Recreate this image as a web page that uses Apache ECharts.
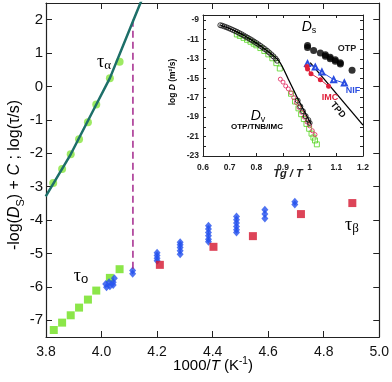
<!DOCTYPE html>
<html>
<head>
<meta charset="utf-8">
<script src="https://cdn.jsdelivr.net/npm/echarts@6/dist/echarts.min.js"></script>
<style>
html, body { margin: 0; padding: 0; background: #fff; }
#chart { width: 392px; height: 382px; }
</style>
</head>
<body>
<div id="chart"></div>
<script>
// main panel: 1000/T vs -log(Ds)+C ; log(tau/s)
var tauAlpha = [[3.799, -3.29], [3.826, -2.89], [3.858, -2.47], [3.889, -2.03], [3.919, -1.58],
  [3.951, -1.07], [3.981, -0.54], [4.030, 0.25], [4.065, 0.74]]
var tauAlphaFit = [[3.799, -3.29], [3.889, -2.03], [3.981, -0.54], [4.030, 0.25], [4.115, 1.99], [4.145, 2.6]]
var tauO = [[3.828, -7.29], [3.858, -7.07], [3.889, -6.85], [3.919, -6.62], [3.951, -6.38],
  [3.981, -6.11], [4.030, -5.73], [4.065, -5.47]]
var dsBlue = [[4.015, -5.91], [4.018, -6.01], [4.027, -5.86], [4.030, -5.98], [4.042, -5.94], [4.042, -5.86], [4.046, -5.74],
  [4.112, -5.51], [4.112, -5.61],
  [4.200, -4.98], [4.200, -5.06], [4.200, -5.14], [4.200, -5.22],
  [4.283, -4.66], [4.283, -4.74], [4.283, -4.82], [4.283, -4.92], [4.283, -5.02],
  [4.385, -4.17], [4.385, -4.27], [4.385, -4.37], [4.385, -4.47], [4.385, -4.57], [4.385, -4.65],
  [4.486, -3.89], [4.486, -3.99], [4.486, -4.09], [4.486, -4.19], [4.486, -4.29], [4.486, -4.37],
  [4.588, -3.69], [4.588, -3.82], [4.588, -3.95],
  [4.696, -3.45], [4.696, -3.53]]
var tauBeta = [[4.210, -5.34], [4.403, -4.80], [4.545, -4.48], [4.718, -3.82], [4.903, -3.49]]
var tgMark = [[4.113, 2.0], [4.113, -5.52]]
var mainYTicks = [-7, -6, -5, -4, -3, -2, -1, 0, 1, 2]

// inset: Tg/T vs log D
var dvOTP = [[0.665, -9.55], [0.672, -9.6], [0.68, -9.68], [0.688, -9.76], [0.696, -9.85], [0.704, -9.94],
  [0.712, -10.04], [0.72, -10.14], [0.728, -10.24], [0.736, -10.36], [0.744, -10.47], [0.752, -10.6],
  [0.76, -10.72], [0.768, -10.84], [0.776, -10.97], [0.784, -11.1], [0.792, -11.24], [0.8, -11.38],
  [0.808, -11.53], [0.816, -11.68], [0.824, -11.84], [0.832, -12.0], [0.84, -12.17], [0.848, -12.35],
  [0.856, -12.55], [0.864, -12.75], [0.872, -12.98], [0.878, -13.2],
  [0.955, -17.3], [0.965, -17.9], [0.975, -18.4], [0.985, -18.9], [0.995, -19.3], [1.0, -19.6]]
var dvFit = [[0.665, -9.55], [0.72, -10.14], [0.78, -11.03], [0.84, -12.17], [0.885, -13.25],
  [0.92, -15.1], [0.96, -17.35], [1.005, -19.7]]
var dvTNB = [[0.727, -10.5], [0.738, -10.65], [0.752, -10.85], [0.765, -11.05], [0.778, -11.25],
  [0.79, -11.45], [0.8, -11.62], [0.815, -11.9], [0.83, -12.2], [0.845, -12.55], [0.86, -12.95],
  [0.875, -13.45], [0.888, -14.0],
  [0.93, -16.6], [0.945, -17.4], [0.958, -18.1], [0.968, -18.7], [0.978, -19.2], [0.988, -19.7],
  [0.998, -20.2], [1.007, -20.7], [1.014, -21.1], [1.02, -21.4], [1.027, -21.8]]
var dvIMC = [[0.89, -15.1], [0.9, -15.4], [0.91, -15.8], [0.92, -16.1], [0.93, -16.5], [0.94, -17.0],
  [0.95, -17.5], [0.96, -18.0], [0.97, -18.5], [0.98, -19.0], [0.99, -19.5], [1.0, -19.9],
  [1.01, -20.4], [1.02, -20.8]]
var dsOTP = [[0.992, -11.63], [0.992, -11.85], [1.015, -12.15], [1.04, -12.42], [1.059, -12.6], [1.059, -12.75],
  [1.077, -12.85], [1.077, -13.0], [1.096, -13.1], [1.096, -13.25], [1.115, -13.4], [1.115, -13.55], [1.159, -14.19]]
var dsNIF = [[0.992, -13.5], [1.021, -13.86], [1.046, -14.37], [1.09, -15.15], [1.13, -15.5]]
var dsIMC = [[0.99, -13.8], [0.992, -14.05], [1.005, -14.53], [1.04, -15.15], [1.071, -15.83]]
var tpd = [[1.002, -13.4], [1.2, -19.83]]
var tgVert = [[1.003, -12.15], [1.003, -20.0]]
var tgHoriz = [[0.94, -20.0], [1.2, -20.0]]
var insetYLabels = [-23, -21, -19, -17, -15, -13, -11, -9]
var insetYTicks = [-23, -22, -21, -20, -19, -18, -17, -16, -15, -14, -13, -12, -11, -10, -9]

var sans = 'Liberation Sans'
var serif = 'Liberation Serif'
var ink = '#222'

function axis (o) {
  var base = {
    type: 'value',
    splitLine: { show: false },
    axisLine: { show: true, onZero: false, lineStyle: { color: ink, width: 1.2 } },
    axisTick: { show: true, inside: true, length: 6, lineStyle: { color: ink } },
    axisLabel: { show: false }
  }
  return Object.assign(base, o)
}

function scatter (data, x, y, symbol, size, color, extra) {
  return Object.assign({
    type: 'scatter', xAxisIndex: x, yAxisIndex: y, data: data,
    symbol: symbol, symbolSize: size, itemStyle: { color: color }, silent: true
  }, extra || {})
}

function line (data, x, y, color, width, type) {
  return {
    type: 'line', xAxisIndex: x, yAxisIndex: y, data: data, showSymbol: false, symbol: 'none',
    lineStyle: { color: color, width: width, type: type || 'solid' }, silent: true
  }
}

var chart = echarts.init(document.getElementById('chart'), null, { renderer: 'canvas' })

var insetLbl = { show: true, fontSize: 8.5, fontWeight: 'bold', fontFamily: sans, color: ink }

var option = {
  animation: false,
  grid: [
    { left: 46, right: 12, top: 3, bottom: 45 },
    { left: 203, right: 29, top: 15, bottom: 226, show: true, backgroundColor: '#fff', borderWidth: 0, z: 5 }
  ],
  xAxis: [
    axis({ gridIndex: 0, min: 3.8, max: 5.0, interval: 0.2, position: 'bottom',
      axisLabel: { show: true, fontSize: 14, fontFamily: sans, color: '#111', margin: 8,
        formatter: function (v) { return v.toFixed(1) } } }),
    axis({ gridIndex: 0, min: 3.8, max: 5.0, interval: 0.2, position: 'top' }),
    axis({ gridIndex: 1, min: 0.6, max: 1.2, interval: 0.1, position: 'bottom', z: 6,
      axisLine: { show: true, onZero: false, lineStyle: { color: ink, width: 1 } },
      axisTick: { show: true, inside: true, length: 3, lineStyle: { color: ink } },
      axisLabel: Object.assign({ margin: 7, formatter: function (v) { return Math.abs(v - 1) < 1e-9 ? '1' : v.toFixed(1) } }, insetLbl) }),
    axis({ gridIndex: 1, min: 0.6, max: 1.2, interval: 0.1, position: 'top', z: 6,
      axisLine: { show: true, onZero: false, lineStyle: { color: ink, width: 1 } },
      axisTick: { show: true, inside: true, length: 3, lineStyle: { color: ink } } })
  ],
  yAxis: [
    axis({ gridIndex: 0, min: -7.5, max: 2.5, position: 'left',
      axisTick: { show: true, inside: true, length: 6, customValues: mainYTicks, lineStyle: { color: ink } },
      axisLabel: { show: true, fontSize: 15, fontFamily: sans, color: '#111', margin: 3, customValues: mainYTicks } }),
    axis({ gridIndex: 0, min: -7.5, max: 2.5, position: 'right',
      axisTick: { show: true, inside: true, length: 6, customValues: mainYTicks, lineStyle: { color: ink } } }),
    axis({ gridIndex: 1, min: -23, max: -8.5, position: 'left', z: 6,
      axisLine: { show: true, onZero: false, lineStyle: { color: ink, width: 1 } },
      axisTick: { show: true, inside: true, length: 3, customValues: insetYTicks, lineStyle: { color: ink } },
      axisLabel: Object.assign({ margin: 4, customValues: insetYLabels }, insetLbl) }),
    axis({ gridIndex: 1, min: -23, max: -8.5, position: 'right', z: 6,
      axisLine: { show: true, onZero: false, lineStyle: { color: ink, width: 1 } },
      axisTick: { show: true, inside: true, length: 3, customValues: insetYTicks, lineStyle: { color: ink } } })
  ],
  series: [
    line(tgMark, 0, 0, '#a3268c', 1.5, [7, 4]),
    line(tauAlphaFit, 0, 0, '#1d6f69', 2.5),
    scatter(tauAlpha, 0, 0, 'circle', 8, '#86e53c'),
    scatter(tauO, 0, 0, 'rect', 8, '#6ee01c'),
    scatter(dsBlue, 0, 0, 'diamond', [7, 8], '#2350ee'),
    scatter(tauBeta, 0, 0, 'rect', 8, '#d4152e'),

    line(tgVert, 2, 2, '#f2b21c', 1, [4, 3]),
    line(tgHoriz, 2, 2, '#f2b21c', 1, [4, 3]),
    scatter(dvTNB, 2, 2, 'rect', 5, 'rgba(0,0,0,0)', { itemStyle: { color: 'rgba(0,0,0,0)', borderColor: '#55d420', borderWidth: 1 }, z: 6 }),
    scatter(dvIMC, 2, 2, 'circle', 4, 'rgba(0,0,0,0)', { itemStyle: { color: 'rgba(0,0,0,0)', borderColor: '#e0205a', borderWidth: 1 }, z: 6 }),
    scatter(dvOTP, 2, 2, 'circle', 5, 'rgba(0,0,0,0)', { itemStyle: { color: 'rgba(0,0,0,0)', borderColor: '#111', borderWidth: 1 }, z: 6 }),
    Object.assign(line(dvFit, 2, 2, '#000', 1.3), { smooth: 0.3, z: 7 }),
    Object.assign(line(tpd, 2, 2, '#000', 1.3), { z: 7 }),
    scatter(dsOTP, 2, 2, 'circle', 7, '#000', { z: 7 }),
    Object.assign(line(dsNIF, 2, 2, '#2a4de0', 1), { z: 7, showSymbol: true, symbol: 'emptyTriangle', symbolSize: 5, itemStyle: { color: '#2a4de0' } }),
    Object.assign(line(dsIMC, 2, 2, '#e0203a', 1), { z: 7, showSymbol: true, symbol: 'circle', symbolSize: 5, itemStyle: { color: '#e0203a' } })
  ],
  graphic: [
    { type: 'text', x: 15, y: 175, rotation: Math.PI / 2, z: 10,
      style: { text: '{n|-log(}{i|D}{s|S}{n|) + }{i|C}{n| ; log(τ/s)}', align: 'center', verticalAlign: 'middle',
        rich: {
          n: { fontSize: 16, fontFamily: sans, color: '#111', lineHeight: 22 },
          i: { fontSize: 16, fontFamily: sans, fontStyle: 'italic', color: '#111', lineHeight: 22 },
          s: { fontSize: 11, fontFamily: sans, color: '#111', lineHeight: 10, verticalAlign: 'bottom' }
        } } },
    { type: 'text', x: 213, y: 366, z: 10,
      style: { text: '{n|1000/}{i|T}{n| (K}{p|-1}{n|)}', align: 'center', verticalAlign: 'middle',
        rich: {
          n: { fontSize: 15, fontFamily: sans, color: '#111', lineHeight: 20 },
          i: { fontSize: 15, fontFamily: sans, fontStyle: 'italic', color: '#111', lineHeight: 20 },
          p: { fontSize: 10, fontFamily: sans, color: '#111', lineHeight: 10, verticalAlign: 'top' }
        } } },
    { type: 'text', x: 104, y: 62, z: 10,
      style: { text: '{t|τ}{s|α}', align: 'center', verticalAlign: 'middle',
        rich: {
          t: { fontSize: 18, fontFamily: serif, color: '#111', lineHeight: 20 },
          s: { fontSize: 13, fontFamily: serif, color: '#111', lineHeight: 12, verticalAlign: 'bottom' }
        } } },
    { type: 'text', x: 81, y: 276, z: 10,
      style: { text: '{t|τ}{s|o}', align: 'center', verticalAlign: 'middle',
        rich: {
          t: { fontSize: 18, fontFamily: serif, color: '#111', lineHeight: 20 },
          s: { fontSize: 13, fontFamily: sans, color: '#111', lineHeight: 12, verticalAlign: 'bottom' }
        } } },
    { type: 'text', x: 352, y: 225, z: 10,
      style: { text: '{t|τ}{s|β}', align: 'center', verticalAlign: 'middle',
        rich: {
          t: { fontSize: 18, fontFamily: serif, color: '#111', lineHeight: 20 },
          s: { fontSize: 13, fontFamily: serif, color: '#111', lineHeight: 12, verticalAlign: 'bottom' }
        } } },
    { type: 'text', x: 173, y: 82, rotation: Math.PI / 2, z: 10,
      style: { text: '{n|log }{i|D}{n| (m²/s)}', align: 'center', verticalAlign: 'middle',
        rich: {
          n: { fontSize: 8.5, fontWeight: 'bold', fontFamily: sans, color: ink },
          i: { fontSize: 8.5, fontWeight: 'bold', fontStyle: 'italic', fontFamily: sans, color: ink }
        } } },
    { type: 'text', x: 288, y: 174, z: 10,
      style: { text: 'Tg / T', align: 'center', verticalAlign: 'middle', fontSize: 11, fontWeight: 'bold',
        fontStyle: 'italic', fontFamily: sans, fill: ink } },
    { type: 'text', x: 309, y: 27, z: 10,
      style: { text: '{d|D}{s|s}', align: 'center', verticalAlign: 'middle',
        rich: {
          d: { fontSize: 14, fontStyle: 'italic', fontFamily: sans, color: '#111', lineHeight: 16 },
          s: { fontSize: 9, fontFamily: sans, color: '#111', lineHeight: 9, verticalAlign: 'bottom' }
        } } },
    { type: 'text', x: 258, y: 116, z: 10,
      style: { text: '{d|D}{s|v}', align: 'center', verticalAlign: 'middle',
        rich: {
          d: { fontSize: 14, fontStyle: 'italic', fontFamily: sans, color: '#111', lineHeight: 16 },
          s: { fontSize: 9, fontFamily: sans, color: '#111', lineHeight: 9, verticalAlign: 'bottom' }
        } } },
    { type: 'text', x: 257, y: 127, z: 10,
      style: { text: '{k|OTP/}{g|TNB}{r|/IMC}', align: 'center', verticalAlign: 'middle',
        rich: {
          k: { fontSize: 8, fontWeight: 'bold', fontFamily: sans, color: '#222' },
          g: { fontSize: 8, fontWeight: 'bold', fontFamily: sans, color: '#4cd118' },
          r: { fontSize: 8, fontWeight: 'bold', fontFamily: sans, color: '#e0204a' }
        } } },
    { type: 'text', x: 347, y: 49, z: 10,
      style: { text: 'OTP', align: 'center', verticalAlign: 'middle', fontSize: 9, fontWeight: 'bold', fontFamily: sans, fill: '#222' } },
    { type: 'text', x: 353, y: 91, z: 10,
      style: { text: 'NIF', align: 'center', verticalAlign: 'middle', fontSize: 9, fontWeight: 'bold', fontFamily: sans, fill: '#2a4de0' } },
    { type: 'text', x: 330, y: 98, z: 10,
      style: { text: 'IMC', align: 'center', verticalAlign: 'middle', fontSize: 9, fontWeight: 'bold', fontFamily: sans, fill: '#e0203a' } },
    { type: 'text', x: 338, y: 110, rotation: -0.86, z: 10,
      style: { text: 'TPD', align: 'center', verticalAlign: 'middle', fontSize: 9, fontWeight: 'bold', fontFamily: sans, fill: '#111' } }
  ]
}

chart.setOption(option)
</script>
</body>
</html>
